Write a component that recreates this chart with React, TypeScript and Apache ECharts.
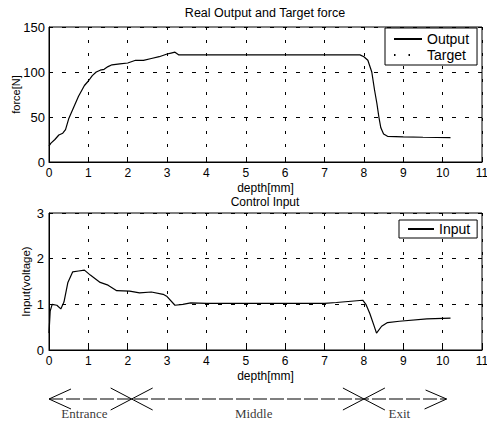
import React, { useEffect, useRef } from "react";
import * as echarts from "echarts";

const FONT = "'Liberation Sans', Arial, sans-serif";
const SERIF = "'Liberation Serif', 'Times New Roman', serif";

// Top plot: Real output force vs depth
const outputDepth = [0, 0.05, 0.15, 0.25, 0.35, 0.42, 0.5, 0.6, 0.75, 0.9, 1.0, 1.1, 1.2, 1.3, 1.4, 1.5, 1.6, 1.8, 2.0, 2.2, 2.4, 2.6, 2.8, 3.0, 3.1, 3.2, 3.3, 3.5, 4.0, 4.5, 5.0, 5.5, 6.0, 6.5, 7.0, 7.5, 7.9, 8.0, 8.1, 8.2, 8.27, 8.33, 8.38, 8.43, 8.5, 8.6, 9.0, 9.5, 10.2];
const outputForce = [18, 21, 25, 30, 32, 36, 48, 58, 73, 85, 90, 96, 100, 102, 103, 106, 108, 109, 110, 113, 113, 115, 117, 120, 121, 122, 119, 119, 119, 119, 119, 119, 119, 119, 119, 119, 119, 117, 113, 100, 80, 65, 50, 38, 31, 28.5, 28, 27.5, 27];
const targetDepth: number[] = [];
const targetForce: number[] = [];

// Bottom plot: control input vs depth
const inputDepth = [0, 0.03, 0.08, 0.2, 0.3, 0.38, 0.48, 0.6, 0.75, 0.9, 1.05, 1.3, 1.5, 1.72, 2.05, 2.3, 2.6, 2.9, 3.0, 3.2, 3.4, 3.6, 4.0, 5.0, 6.0, 7.0, 7.3, 7.97, 8.05, 8.15, 8.25, 8.32, 8.45, 8.6, 8.9, 9.6, 10.2];
const inputVoltage = [0.37, 0.85, 1.0, 0.98, 0.9, 1.05, 1.48, 1.71, 1.73, 1.75, 1.64, 1.48, 1.42, 1.3, 1.29, 1.25, 1.27, 1.22, 1.17, 0.98, 1.0, 1.03, 1.02, 1.02, 1.02, 1.02, 1.04, 1.09, 1.0, 0.8, 0.55, 0.37, 0.52, 0.6, 0.63, 0.68, 0.7];

// Region annotation under the plots
const zoneDepth = [0, 2.1, 8, 10.1];
const zoneKind = [0, 1, 1, 2]; // 0 = left arrow head, 1 = cross, 2 = right arrow head
const zoneNames = ["Entrance", "Middle", "Exit"];
const zoneLabelDepth = [0.9, 5.2, 8.9];

const xTicksMax = 11;

function xAxisCommon(gridIndex: number) {
  return {
    type: "value" as const,
    gridIndex,
    min: 0,
    max: xTicksMax,
    interval: 1,
    name: "depth[mm]",
    nameLocation: "middle" as const,
    nameGap: 20,
    nameMoveOverlap: false,
    nameTextStyle: { fontFamily: FONT, fontSize: 12, color: "#000", lineHeight: 12 },
    axisLine: { show: true, lineStyle: { color: "#000", width: 1 } },
    axisTick: { show: true, inside: true, length: 4, lineStyle: { color: "#000" } },
    axisLabel: { fontFamily: FONT, fontSize: 12, color: "#000", margin: 5 },
    splitLine: { show: true, lineStyle: { color: "#000", type: [3, 10], width: 1 } },
  };
}

export default function App() {
  const ref = useRef<HTMLDivElement>(null);
  useEffect(() => {
    if (!ref.current) return;
    const chart = echarts.init(ref.current, undefined, { renderer: "svg" });
    const pairs = (xs: number[], ys: number[]) => xs.map((x, i) => [x, ys[i]]);

    const legendCommon = {
      orient: "vertical",
      backgroundColor: "#fff",
      borderColor: "#000",
      borderWidth: 1,
      borderRadius: 0,
      itemStyle: { opacity: 0 },
      lineStyle: { color: "#000" },
      textStyle: { fontFamily: FONT, fontSize: 14, color: "#000" },
    };

    const option: any = {
      animation: false,
      backgroundColor: "#fff",
      graphic: [
        {
          type: "text",
          x: 265,
          y: 13,
          style: { text: "Real Output and Target force", fontFamily: FONT, fontSize: 12.5, fill: "#000", align: "center", verticalAlign: "middle" },
        },
        {
          type: "text",
          x: 265,
          y: 202,
          style: { text: "Control Input", fontFamily: FONT, fontSize: 12, lineHeight: 12, fill: "#000", align: "center", verticalAlign: "middle" },
        },
      ],
      grid: [
        { left: 49, top: 27, width: 433, height: 135, show: true, borderColor: "#000", borderWidth: 1, outerBoundsMode: "none", containLabel: false },
        { left: 49, top: 213, width: 433, height: 137, show: true, borderColor: "#000", borderWidth: 1, outerBoundsMode: "none", containLabel: false },
        { left: 49, top: 379, width: 433, height: 40, outerBoundsMode: "none", containLabel: false },
      ],
      legend: [
        {
          ...legendCommon,
          data: ["Output", "Target"],
          left: 385,
          top: 28,
          padding: [4, 8, 3, 8],
          itemGap: 2,
          itemWidth: 28,
          itemHeight: 12,
        },
        {
          ...legendCommon,
          data: ["Input"],
          left: 399,
          top: 220,
          padding: [2, 7, 2, 8],
          itemWidth: 26,
          itemHeight: 12,
        },
      ],
      xAxis: [
        xAxisCommon(0),
        xAxisCommon(1),
        { type: "value", gridIndex: 2, min: 0, max: xTicksMax, show: false },
      ],
      yAxis: [
        {
          type: "value",
          gridIndex: 0,
          min: 0,
          max: 150,
          interval: 50,
          name: "force[N]",
          nameLocation: "middle",
          nameGap: 28,
          nameMoveOverlap: false,
          nameTextStyle: { fontFamily: FONT, fontSize: 11, color: "#000" },
          axisLine: { show: true, lineStyle: { color: "#000", width: 1 } },
          axisTick: { show: true, inside: true, length: 4, lineStyle: { color: "#000" } },
          axisLabel: { fontFamily: FONT, fontSize: 13, color: "#000", margin: 4 },
          splitLine: { show: true, lineStyle: { color: "#000", type: [4, 9], width: 1 } },
        },
        {
          type: "value",
          gridIndex: 1,
          min: 0,
          max: 3,
          interval: 1,
          name: "Input(voltage)",
          nameLocation: "middle",
          nameGap: 17,
          nameMoveOverlap: false,
          nameTextStyle: { fontFamily: FONT, fontSize: 11.5, color: "#000" },
          axisLine: { show: true, lineStyle: { color: "#000", width: 1 } },
          axisTick: { show: true, inside: true, length: 4, lineStyle: { color: "#000" } },
          axisLabel: { fontFamily: FONT, fontSize: 13, color: "#000", margin: 5 },
          splitLine: { show: true, lineStyle: { color: "#000", type: [4, 9], width: 1 } },
        },
        { type: "value", gridIndex: 2, min: -2, max: 2, show: false },
      ],
      series: [
        {
          name: "Output",
          type: "line",
          xAxisIndex: 0,
          yAxisIndex: 0,
          data: pairs(outputDepth, outputForce),
          symbol: "none",
          showSymbol: false,
          lineStyle: { color: "#000", width: 1.2 },
          itemStyle: { color: "#000" },
          z: 5,
        },
        {
          name: "Target",
          type: "line",
          xAxisIndex: 0,
          yAxisIndex: 0,
          data: pairs(targetDepth, targetForce),
          symbol: "none",
          showSymbol: false,
          lineStyle: { color: "#000", width: 1.5, type: [1.5, 13] },
          itemStyle: { color: "#000" },
        },
        {
          name: "Input",
          type: "line",
          xAxisIndex: 1,
          yAxisIndex: 1,
          data: pairs(inputDepth, inputVoltage),
          symbol: "none",
          showSymbol: false,
          lineStyle: { color: "#000", width: 1.2 },
          itemStyle: { color: "#000" },
          z: 5,
        },
        {
          name: "baseline",
          type: "line",
          xAxisIndex: 2,
          yAxisIndex: 2,
          data: [[zoneDepth[0], 0], [zoneDepth[zoneDepth.length - 1], 0]],
          symbol: "none",
          lineStyle: { color: "#000", width: 1.2, type: [14, 3] },
          silent: true,
        },
        {
          name: "zones",
          type: "custom",
          xAxisIndex: 2,
          yAxisIndex: 2,
          data: zoneDepth.map((d, i) => [d, 0, zoneKind[i]]),
          encode: { x: 0, y: 1 },
          silent: true,
          renderItem: (params: any, api: any) => {
            const p = api.coord([api.value(0), api.value(1)]);
            const kind = api.value(2);
            const st = { stroke: "#000", lineWidth: 1 };
            const seg = (x1: number, y1: number, x2: number, y2: number) => ({
              type: "line",
              shape: { x1, y1, x2, y2 },
              style: st,
            });
            let children: any[] = [];
            if (kind === 0) {
              children = [seg(p[0], p[1], p[0] + 22, p[1] - 10), seg(p[0], p[1], p[0] + 22, p[1] + 10)];
            } else if (kind === 2) {
              children = [seg(p[0], p[1], p[0] - 21, p[1] - 9), seg(p[0], p[1], p[0] - 22, p[1] + 10)];
            } else {
              children = [seg(p[0] - 21, p[1] - 11, p[0] + 21, p[1] + 11), seg(p[0] - 21, p[1] + 11, p[0] + 21, p[1] - 11)];
            }
            return { type: "group", children };
          },
        },
        {
          name: "zoneLabels",
          type: "scatter",
          xAxisIndex: 2,
          yAxisIndex: 2,
          data: zoneNames.map((n, i) => ({ name: n, value: [zoneLabelDepth[i], -1.4] })),
          symbolSize: 1,
          itemStyle: { color: "rgba(0,0,0,0)" },
          silent: true,
          label: {
            show: true,
            position: "inside",
            formatter: (p: any) => p.name,
            fontFamily: SERIF,
            fontSize: 13,
            color: "#000",
          },
        },
      ],
    };
    chart.setOption(option);
    return () => chart.dispose();
  }, []);

  return (
    <div
      ref={ref}
      style={{ position: "fixed", left: 0, top: 0, width: 487, height: 430, background: "#fff" }}
    />
  );
}
